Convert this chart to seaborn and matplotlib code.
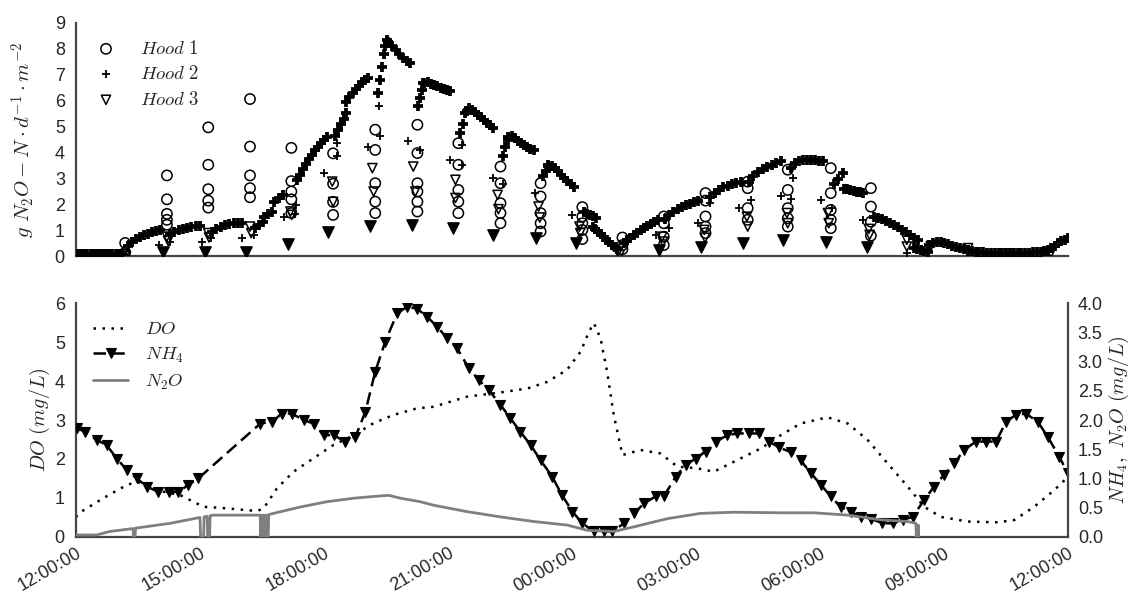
import numpy as np
import matplotlib
matplotlib.use('Agg')
import matplotlib.pyplot as plt
import seaborn as sns

sns.set_theme(style='white')
plt.rcParams['font.family'] = ['Liberation Sans', 'DejaVu Sans']
plt.rcParams['mathtext.fontset'] = 'cm'

# x axis: hours after 12:00:00
tick_hours = [0, 3, 6, 9, 12, 15, 18, 21, 24]
tick_labels = ['12:00:00', '15:00:00', '18:00:00', '21:00:00', '00:00:00',
               '03:00:00', '06:00:00', '09:00:00', '12:00:00']

# ---- top panel: N2O emission per hood ----
# hood 1: one column of readings at every hood switch
hood1_cols = [1.19, 2.20, 3.20, 4.21, 5.21, 6.22, 7.24, 8.26, 9.25, 10.27,
              11.24, 12.25, 13.22, 14.22, 15.23, 16.25, 17.22, 18.26, 19.23]
hood1_vals = [[0.52, 0.15],
              [3.12, 2.20, 1.64, 1.41, 1.22],
              [4.97, 3.53, 2.59, 2.15, 1.88],
              [6.06, 4.23, 3.12, 2.63, 2.28],
              [4.18, 2.90, 2.50, 2.20, 1.67],
              [3.97, 2.80, 2.10, 1.60],
              [4.88, 4.10, 2.82, 2.11, 1.67],
              [5.07, 3.98, 2.82, 2.50, 2.11, 1.73],
              [4.36, 3.53, 2.56, 2.11, 1.67],
              [3.46, 2.82, 2.05, 1.67, 1.28],
              [2.82, 2.31, 1.67, 1.28, 0.96],
              [1.90, 1.54, 1.28, 1.02, 0.67],
              [0.73, 0.44, 0.28],
              [1.54, 1.28, 0.76, 0.44],
              [2.44, 2.15, 1.54, 1.15, 0.90],
              [2.88, 2.63, 1.86, 1.41],
              [3.34, 2.56, 1.86, 1.47, 1.15],
              [3.40, 2.44, 1.79, 1.41, 1.09],
              [2.63, 1.92, 1.34, 0.80]]

# hood 2: continuous logging (segments: start h, end h, readings)
hood2_segments = [
    (0.05, 1.11, [0.08, 0.08, 0.08, 0.08, 0.08, 0.08, 0.08, 0.08, 0.08, 0.09, 0.09, 0.09, 0.10, 0.10, 0.10]),
    (1.26, 2.03, [0.40, 0.55, 0.66, 0.75, 0.82, 0.88, 0.93, 0.97, 1.00]),
    (2.28, 3.00, [0.85, 0.94, 1.01, 1.06, 1.10, 1.13, 1.16, 1.18]),
    (3.29, 4.02, [0.95, 1.07, 1.15, 1.21, 1.25, 1.27, 1.28, 1.29]),
    (4.34, 4.53, [1.10, 1.22, 1.33]),
    (4.55, 4.75, [1.52, 1.62, 1.71]),
    (4.80, 5.01, [2.10, 2.24, 2.37]),
    (5.35, 6.08, [2.95, 3.15, 3.35, 3.55, 3.75, 3.92, 4.08, 4.22, 4.36, 4.48, 4.60]),
    (6.27, 6.54, [4.62, 4.85, 5.10, 5.30, 5.52]),
    (6.54, 7.07, [5.95, 6.15, 6.30, 6.45, 6.58, 6.70, 6.80, 6.88]),
    (7.31, 7.53, [6.30, 6.80, 7.30, 7.80, 8.10, 8.35]),
    (7.56, 8.09, [8.25, 8.10, 7.95, 7.80, 7.65, 7.52, 7.45]),
    (8.28, 8.40, [5.78, 6.10, 6.40, 6.68]),
    (8.43, 9.06, [6.68, 6.70, 6.65, 6.60, 6.55, 6.50, 6.45, 6.40, 6.36]),
    (9.30, 9.42, [4.75, 5.10, 5.52]),
    (9.45, 10.08, [5.60, 5.72, 5.65, 5.55, 5.45, 5.35, 5.25, 5.15, 5.05, 4.95]),
    (10.32, 10.44, [3.85, 4.20, 4.50]),
    (10.46, 11.07, [4.60, 4.62, 4.55, 4.45, 4.35, 4.30, 4.22, 4.15, 4.10]),
    (11.31, 11.41, [3.08, 3.30, 3.47]),
    (11.43, 12.04, [3.52, 3.50, 3.40, 3.28, 3.15, 3.02, 2.90, 2.78, 2.66]),
    (12.28, 12.57, [1.70, 1.65, 1.60, 1.55, 1.50]),
    (12.50, 13.10, [1.15, 1.05, 0.95, 0.85, 0.75, 0.65, 0.55, 0.45, 0.35, 0.30]),
    (13.25, 14.07, [0.50, 0.62, 0.72, 0.82, 0.92, 1.00, 1.10, 1.18, 1.26, 1.34, 1.41]),
    (14.26, 15.04, [1.45, 1.60, 1.72, 1.82, 1.90, 1.97, 2.03, 2.08, 2.12]),
    (15.35, 16.08, [2.30, 2.45, 2.57, 2.66, 2.73, 2.79, 2.84, 2.88]),
    (16.28, 17.05, [2.88, 3.10, 3.27, 3.37, 3.46, 3.54, 3.60, 3.66]),
    (17.29, 18.07, [3.40, 3.58, 3.66, 3.70, 3.72, 3.72, 3.71, 3.69, 3.66]),
    (18.33, 18.55, [2.80, 3.00, 3.20]),
    (18.58, 19.04, [2.60, 2.58, 2.55, 2.52, 2.50, 2.47, 2.44]),
    (19.30, 20.37, [1.53, 1.50, 1.44, 1.36, 1.28, 1.20, 1.12, 1.03, 0.93, 0.83, 0.72, 0.64]),
    (20.27, 20.61, [0.33, 0.28, 0.24, 0.20, 0.18]),
    (20.63, 21.58, [0.44, 0.50, 0.56, 0.55, 0.52, 0.47, 0.42, 0.37, 0.32, 0.27, 0.25]),
    (21.58, 23.52, [0.22, 0.20, 0.18, 0.17, 0.16, 0.15, 0.14, 0.13, 0.13, 0.13, 0.13,
                    0.13, 0.13, 0.14, 0.14, 0.15, 0.15, 0.16, 0.17, 0.18, 0.20, 0.22]),
    (23.52, 24.00, [0.25, 0.33, 0.42, 0.50, 0.58, 0.65, 0.70]),
]
# hood 2: single readings in the switching columns
hood2_col_h = [2.00, 2.27, 3.05, 3.27, 4.02, 4.30, 5.03, 5.30, 5.33, 6.01, 6.32, 6.32,
               7.07, 7.36, 7.34, 8.04, 8.33, 9.06, 9.35, 9.35, 10.10, 10.34, 10.32,
               11.10, 11.31, 12.00, 14.04, 14.35, 15.04, 15.35, 16.04, 16.33,
               17.05, 17.30, 17.34, 18.02, 18.30, 19.04, 19.30, 20.10, 20.28]
hood2_col_v = [0.44, 0.55, 0.56, 0.70, 0.71, 0.82, 1.53, 1.65, 2.00, 3.20, 3.85, 4.37,
               4.23, 4.62, 5.80, 4.43, 4.10, 3.72, 3.53, 4.30, 3.01, 2.80, 3.85,
               2.44, 3.10, 1.60, 0.83, 1.10, 1.28, 2.05, 1.86, 2.18,
               2.31, 2.20, 3.02, 2.18, 1.86, 1.41, 1.50, 0.13, 0.70]

# hood 3: readings in the columns
hood3_h = [0.15, 1.19, 1.21, 2.20, 2.23, 3.20, 3.22, 4.21, 4.24, 5.19, 5.22, 6.20, 6.22,
           7.17, 7.20, 8.16, 8.21, 9.18, 9.18, 10.20, 10.22, 11.19, 11.22, 12.18, 12.20,
           13.12, 13.15, 14.18, 14.20, 15.20, 15.22, 16.23, 16.25, 17.20, 17.22,
           18.19, 18.21, 19.18, 19.20, 20.10, 20.10, 20.68, 21.58, 22.57, 23.59]
hood3_v = [0.05, 0.08, 0.02, 0.76, 0.60, 0.90, 0.73, 1.15, 0.90, 1.73, 1.60, 2.88, 2.10,
           3.40, 2.50, 3.46, 2.50, 2.95, 2.25, 2.37, 1.82, 1.92, 1.50, 1.15, 0.90,
           0.19, 0.05, 0.76, 0.57, 1.02, 0.72, 1.53, 1.15, 1.67, 1.28,
           1.67, 1.28, 1.06, 0.83, 0.64, 0.38, 0.40, 0.32, 0.12, 0.15]
# hood 3: dense bursts of low readings just before each switch
hood3_dense_h = [2.10, 3.12, 4.11, 5.12, 6.10, 7.12, 8.14, 9.11, 10.10, 11.12, 12.09,
                 14.10, 15.11, 16.13, 17.10, 18.14, 19.13]
hood3_dense_v = [0.16, 0.16, 0.16, 0.47, 0.93, 1.16, 1.21, 1.10, 0.83, 0.71, 0.52,
                 0.25, 0.38, 0.51, 0.64, 0.57, 0.38]

# ---- bottom panel: liquid phase ----
do_h = [0.00, 0.06, 0.66, 1.23, 1.47, 1.71, 2.11, 2.52, 2.84, 3.08, 3.65, 4.38, 4.54, 4.86,
        5.26, 5.75, 6.23, 6.72, 7.20, 7.68, 8.25, 8.65, 9.46, 10.27, 10.92, 11.40, 11.88,
        12.21, 12.41, 12.53, 12.69, 12.85, 13.01, 13.22, 13.66, 14.14, 14.55, 15.03,
        15.43, 15.92, 16.57, 17.05, 17.53, 18.18, 18.67, 19.15, 19.63, 20.12, 20.52,
        20.92, 21.57, 22.30, 22.70, 23.18, 23.67, 24.00]
do_v = [0.50, 0.60, 0.99, 1.33, 1.41, 1.33, 1.16, 1.07, 0.90, 0.77, 0.73, 0.66, 0.73, 1.24,
        1.67, 2.02, 2.36, 2.61, 2.92, 3.13, 3.30, 3.34, 3.60, 3.71, 3.81, 3.98, 4.29,
        4.76, 5.27, 5.49, 5.10, 4.24, 3.13, 2.10, 2.23, 2.14, 1.80, 1.76,
        1.67, 1.93, 2.27, 2.61, 2.91, 3.07, 2.91, 2.49, 1.89, 1.29, 0.77,
        0.51, 0.39, 0.37, 0.43, 0.77, 1.20, 1.54]

nh4_h = [0.02, 0.22, 0.50, 0.74, 0.99, 1.23, 1.47, 1.71, 1.99, 2.24, 2.48, 2.72, 2.96,
         4.46, 4.74, 4.98, 5.22, 5.51, 5.75, 5.99, 6.23, 6.52, 6.76, 7.00, 7.24, 7.48,
         7.77, 8.01, 8.25, 8.49, 8.74, 8.98, 9.22, 9.50, 9.74, 9.99, 10.27, 10.51, 10.75,
         11.00, 11.24, 11.52, 11.76, 12.01, 12.25, 12.53, 12.77, 12.97, 13.26, 13.50,
         13.74, 14.02, 14.22, 14.51, 14.75, 14.99, 15.23, 15.48, 15.76, 16.00, 16.28,
         16.52, 16.77, 17.01, 17.29, 17.53, 17.78, 18.02, 18.26, 18.50, 18.74, 18.99,
         19.23, 19.51, 19.76, 20.00, 20.24, 20.52, 20.76, 21.00, 21.25, 21.49, 21.77,
         22.01, 22.26, 22.50, 22.74, 22.98, 23.27, 23.51, 23.79, 23.99]
nh4_v = [1.86, 1.80, 1.66, 1.57, 1.34, 1.14, 1.00, 0.86, 0.77, 0.77, 0.77, 0.89, 1.00,
         1.94, 1.97, 2.11, 2.11, 2.00, 1.94, 1.74, 1.74, 1.63, 1.71, 2.14, 2.83, 3.34,
         3.83, 3.94, 3.91, 3.77, 3.60, 3.40, 3.23, 2.89, 2.69, 2.51, 2.26, 2.03, 1.80,
         1.57, 1.31, 1.03, 0.71, 0.43, 0.23, 0.09, 0.09, 0.09, 0.23, 0.40,
         0.57, 0.69, 0.69, 1.03, 1.23, 1.34, 1.46, 1.63, 1.74, 1.77, 1.77,
         1.77, 1.63, 1.53, 1.45, 1.31, 1.09, 0.89, 0.69, 0.51, 0.43, 0.34,
         0.31, 0.23, 0.23, 0.29, 0.34, 0.63, 0.86, 1.06, 1.26, 1.49, 1.63,
         1.63, 1.63, 1.97, 2.09, 2.11, 1.97, 1.71, 1.37, 1.09]

n2o_h = [0.00, 0.50, 0.82, 1.38, 1.39, 1.43, 1.44, 1.47, 2.28, 3.00, 3.015, 3.088, 3.10,
         3.173, 3.185, 3.233, 3.245, 3.33, 3.65, 4.456, 4.468, 4.505, 4.517, 4.553, 4.565,
         4.601, 4.613, 4.650, 4.662, 4.78, 5.43, 6.07, 6.72, 7.20, 7.56, 7.85, 8.33, 8.65,
         9.46, 10.27, 11.08, 11.88, 12.37, 13.01, 13.50, 14.31, 15.11, 15.92, 17.05,
         17.86, 18.67, 19.47, 20.12, 20.32, 20.33, 20.37, 20.375, 20.38]
n2o_v = [0.03, 0.03, 0.09, 0.14, 0.00, 0.00, 0.15, 0.15, 0.23, 0.33, 0.00, 0.00, 0.34,
         0.35, 0.00, 0.00, 0.36, 0.37, 0.37, 0.37, 0.00, 0.37, 0.00, 0.37, 0.00,
         0.37, 0.00, 0.00, 0.38, 0.40, 0.51, 0.60, 0.66, 0.69, 0.71, 0.66, 0.60, 0.54,
         0.43, 0.34, 0.26, 0.20, 0.11, 0.09, 0.17, 0.31, 0.40, 0.42, 0.41,
         0.41, 0.37, 0.29, 0.26, 0.23, 0.00, 0.00, 0.20, 0.00]

# assemble the long-form point lists
h1_x = [t for t, vals in zip(hood1_cols, hood1_vals) for _ in vals]
h1_y = [v for vals in hood1_vals for v in vals]
curve_x, curve_y = [], []
for t0, t1, vals in hood2_segments:
    curve_x.extend(np.linspace(t0, t1, len(vals)))
    curve_y.extend(vals)

fig = plt.figure(figsize=(11.29, 5.93), dpi=100)
ax1 = fig.add_axes([0.0673, 0.5675, 0.8787, 0.3943])
ax2 = fig.add_axes([0.0673, 0.0949, 0.8787, 0.3936])
ax3 = ax2.twinx()

spine_col = '#444444'

# top
sns.scatterplot(x=h1_x, y=h1_y, ax=ax1, marker='o', s=55, facecolor='none',
                edgecolor='black', linewidth=1.1, label=r'$Hood\ 1$', zorder=3)
sns.scatterplot(x=hood2_col_h, y=hood2_col_v, ax=ax1, marker='+', s=40, color='black',
                linewidth=1.3, label=r'$Hood\ 2$', zorder=4)
sns.scatterplot(x=hood3_h, y=hood3_v, ax=ax1, marker='v', s=44, facecolor='none',
                edgecolor='black', linewidth=1.1, label=r'$Hood\ 3$', zorder=3)
sns.scatterplot(x=curve_x, y=curve_y, ax=ax1, marker='+', s=50, color='black',
                linewidth=2.7, zorder=4)
sns.scatterplot(x=hood3_dense_h, y=hood3_dense_v, ax=ax1, marker='v', s=66,
                color='black', edgecolor='black', linewidth=1.0, zorder=3)

ax1.set_xlim(0, 24)
ax1.set_ylim(0, 9)
ax1.set_yticks(range(0, 10))
ax1.set_xticks([])
ax1.set_ylabel(r'$g\ N_2O - N \cdot d^{-1} \cdot m^{-2}$', fontsize=15, labelpad=12)
ax1.legend(loc='upper left', bbox_to_anchor=(0.0, 0.975), frameon=False,
           fontsize=13.5, handletextpad=0.8, labelspacing=0.4, borderaxespad=0.2)

# bottom
sns.lineplot(x=do_h, y=do_v, ax=ax2, color='black', linestyle=(0, (1, 2.6)),
             linewidth=1.8, label=r'$DO$', estimator=None, sort=False)
sns.lineplot(x=nh4_h, y=nh4_v, ax=ax3, color='black', linestyle=(0, (5, 2.5)),
             linewidth=1.8, marker='v', markersize=7.5, markeredgecolor='black',
             markeredgewidth=0.8, label=r'$NH_4$', estimator=None, sort=False)
sns.lineplot(x=n2o_h, y=n2o_v, ax=ax3, color='#7f7f7f', linewidth=2.0,
             label=r'$N_2O$', estimator=None, sort=False)

ax2.set_xlim(0, 24)
ax2.set_ylim(0, 6)
ax2.set_yticks(range(0, 7))
ax3.set_ylim(0, 4)
ax3.set_yticks(np.arange(0, 4.01, 0.5))
ax3.set_yticklabels([f'{v:.1f}' for v in np.arange(0, 4.01, 0.5)])
ax2.set_xticks(tick_hours)
ax2.set_xticklabels(tick_labels, rotation=30, ha='right', va='top',
                    rotation_mode='anchor')
ax2.set_ylabel(r'$DO\ (mg/L)$', fontsize=14.5, labelpad=2)
ax3.set_ylabel(r'$NH_4,\ N_2O\ (mg/L)$', fontsize=14.5, labelpad=3)

handles = ax2.get_legend_handles_labels()[0] + ax3.get_legend_handles_labels()[0]
labels = ax2.get_legend_handles_labels()[1] + ax3.get_legend_handles_labels()[1]
if ax2.get_legend() is not None:
    ax2.get_legend().remove()
ax3.legend(handles, labels, loc='upper left', bbox_to_anchor=(0.0, 0.995),
           frameon=False, fontsize=13.5, handlelength=1.9, handletextpad=0.9,
           labelspacing=0.4)

for ax in (ax1, ax2, ax3):
    ax.tick_params(length=0, labelsize=13, pad=8)
    for side in ('top', 'right', 'left', 'bottom'):
        ax.spines[side].set_visible(False)
for ax, sides in ((ax1, ('left', 'bottom')), (ax2, ('left', 'bottom')), (ax3, ('right',))):
    for side in sides:
        ax.spines[side].set_visible(True)
        ax.spines[side].set_color(spine_col)
        ax.spines[side].set_linewidth(1.6)
ax2.tick_params(axis='x', pad=6)
ax3.tick_params(axis='y', pad=7)

fig.savefig('out.png', dpi=100)
